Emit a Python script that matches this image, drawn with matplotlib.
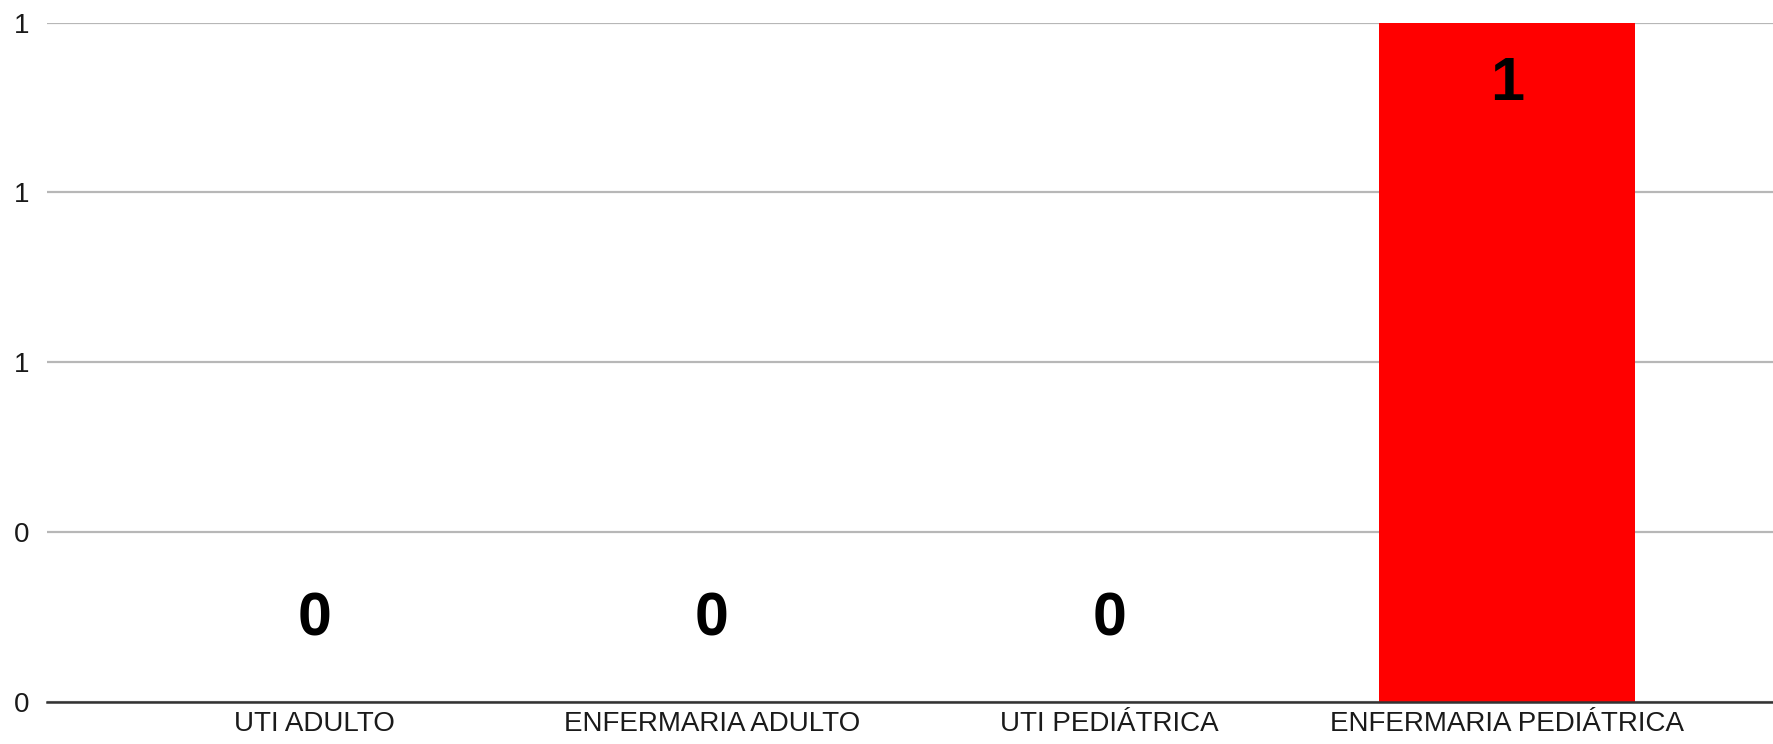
import matplotlib
matplotlib.use("Agg")
import matplotlib.pyplot as plt

categories = ["UTI ADULTO", "ENFERMARIA ADULTO", "UTI PEDIÁTRICA", "ENFERMARIA PEDIÁTRICA"]
values = [0, 0, 0, 1]
value_labels = ["0", "0", "0", "1"]
ytick_values = [0, 0.25, 0.5, 0.75, 1.0]
ytick_labels = ["0", "0", "1", "1", "1"]

plt.rcParams['font.family'] = ['Liberation Sans', 'DejaVu Sans']

W, H = 1773, 744
fig = plt.figure(figsize=(W/100, H/100), dpi=100)
left, bottom_px, top_px = 47, 701.5, 22.7
ax = fig.add_axes([left/W, (H-bottom_px)/H, 1 - left/W, (bottom_px-top_px)/H])

x = list(range(len(categories)))
ax.bar(x, values, width=0.646, color="#ff0000", zorder=3)

ax.set_xlim(-0.672, 3.669)
ax.set_ylim(0, 1)
ax.set_yticks(ytick_values)
ax.set_yticklabels(ytick_labels, fontsize=20, color="#1a1a1a")
ax.set_xticks(x)
ax.set_xticklabels(categories, fontsize=20, color="#1a1a1a")
ax.tick_params(axis='both', length=0)
ax.tick_params(axis='y', pad=13)
ax.tick_params(axis='x', pad=7)

ax.grid(axis='y', color="#b7b7b7", linewidth=1.6, zorder=0)
ax.set_axisbelow(True)
for s in ["top", "right", "left"]:
    ax.spines[s].set_visible(False)
ax.spines["bottom"].set_color("#333333")
ax.spines["bottom"].set_linewidth(1.8)
ax.spines["bottom"].set_zorder(4)

for xi, v, lab in zip(x, values, value_labels):
    dy = -40 if v > 0 else 63
    ax.annotate(lab, (xi, v), xytext=(0, dy), textcoords="offset points",
                ha="center", va="center_baseline", fontsize=44, fontweight="bold",
                color="#000000", zorder=5)

fig.savefig("out.png", dpi=100, facecolor="white")
